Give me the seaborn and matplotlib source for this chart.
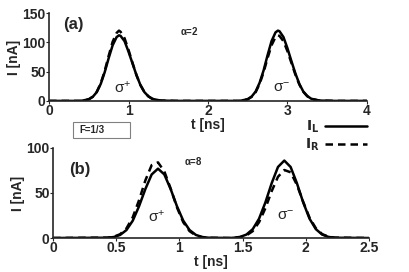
import matplotlib
matplotlib.use("Agg")
import matplotlib.pyplot as plt
import numpy as np
import pandas as pd
import seaborn as sns
from matplotlib.lines import Line2D
from matplotlib.patches import Rectangle

# panel (a), alpha = 2
t_a = [0.0, 0.40, 0.50, 0.55, 0.60, 0.65, 0.70, 0.75, 0.80, 0.85, 0.88, 0.90, 0.95, 1.00, 1.05,
       1.10, 1.15, 1.20, 1.25, 1.30, 1.40, 1.60, 2.00,
       2.40, 2.50, 2.55, 2.60, 2.65, 2.70, 2.75, 2.80, 2.85, 2.88, 2.90, 2.95, 3.00, 3.05,
       3.10, 3.15, 3.20, 3.25, 3.30, 3.40, 3.60, 4.00]
iL_a = [0.0, 0.0, 2.8, 7, 15, 29, 49, 73, 95, 109, 112, 111, 102, 84, 64,
        44, 27, 15, 7.8, 3.5, 0.6, 0.0, 0.0,
        0.0, 3.0, 7.5, 16, 31, 52, 78, 102, 117, 120, 119, 109, 90, 68,
        47, 29, 16, 8.3, 3.7, 0.6, 0.0, 0.0]
iR_a = [0.0, 0.0, 2.8, 7.2, 15.5, 30, 51, 77, 101, 116, 120, 118, 107, 87, 65,
        44, 27, 15, 7.8, 3.5, 0.6, 0.0, 0.0,
        0.0, 2.8, 7, 15, 29, 49, 73, 95, 109, 112, 111, 102, 85, 65,
        45, 28, 15.5, 8.0, 3.6, 0.6, 0.0, 0.0]

# panel (b), alpha = 8
t_b = [0.0, 0.43, 0.48, 0.53, 0.58, 0.63, 0.68, 0.73, 0.78, 0.83, 0.88, 0.93, 0.98, 1.03,
       1.08, 1.13, 1.18, 1.23, 1.40,
       1.43, 1.48, 1.53, 1.58, 1.63, 1.68, 1.73, 1.78, 1.83, 1.88, 1.93, 1.98, 2.03,
       2.08, 2.13, 2.18, 2.23, 2.50]
iL_b = [0.0, 0.3, 1.1, 3.4, 8.8, 19.2, 35.3, 54.4, 70.6, 77, 70.6, 54.4, 35.3, 19.2,
        8.8, 3.4, 1.1, 0.3, 0.0,
        0.3, 1.2, 3.8, 9.8, 21.4, 39.4, 60.8, 78.9, 86, 78.9, 60.8, 39.4, 21.4,
        9.8, 3.8, 1.2, 0.3, 0.0]
iR_b = [0.0, 0.4, 1.4, 4.2, 10.6, 23, 42, 64, 81, 84, 74, 55, 34, 17.5,
        7.6, 2.8, 0.9, 0.2, 0.0,
        0.2, 0.9, 2.9, 7.6, 17.5, 33, 52, 68, 75.5, 73, 59, 40, 22.5,
        10.8, 4.3, 1.4, 0.4, 0.0]

sns.set_theme(style="ticks")
plt.rcParams["font.family"] = ["Liberation Sans", "DejaVu Sans"]
plt.rcParams["font.weight"] = "normal"
plt.rcParams["axes.labelweight"] = "bold"
plt.rcParams["mathtext.default"] = "regular"

fig = plt.figure(figsize=(4.09, 2.72), dpi=100)
ax_a = fig.add_axes([0.120, 0.629, 0.777, 0.323])
ax_b = fig.add_axes([0.130, 0.125, 0.772, 0.331])

df_a = pd.DataFrame({"t": t_a, "IL": iL_a, "IR": iR_a})
df_b = pd.DataFrame({"t": t_b, "IL": iL_b, "IR": iR_b})

for ax, df in ((ax_a, df_a), (ax_b, df_b)):
    sns.lineplot(data=df, x="t", y="IL", ax=ax, color="black", lw=1.8, sort=False)
    sns.lineplot(data=df, x="t", y="IR", ax=ax, color="black", lw=1.8, ls=(0, (3, 2)), sort=False)
    ax.set_ylabel("I [nA]", fontsize=10, labelpad=1, fontweight="bold")
    ax.set_xlabel("t [ns]", fontsize=10, labelpad=0, fontweight="bold")
    ax.tick_params(labelsize=10, length=2, width=0.8, pad=0.5)
    for side in ("left", "bottom"):
        ax.spines[side].set_linewidth(1.2)
    sns.despine(ax=ax)

ax_a.set_xlim(0, 4)
ax_a.set_ylim(0, 150)
ax_a.set_xticks([0, 1, 2, 3, 4])
ax_a.set_yticks([0, 50, 100, 150])
ax_b.set_xlim(0, 2.5)
ax_b.set_ylim(0, 100)
ax_b.set_xticks([0, 0.5, 1, 1.5, 2, 2.5])
ax_b.set_xticklabels(["0", "0.5", "1", "1.5", "2", "2.5"])
ax_b.set_yticks([0, 50, 100])
for ax in (ax_a, ax_b):
    for lbl in ax.get_xticklabels() + ax.get_yticklabels():
        lbl.set_fontweight("bold")

ax_a.text(0.3, 130, "(a)", fontsize=12, fontweight="bold", ha="center", va="center")
ax_a.text(1.77, 120, r"$\alpha$=2", fontsize=7, fontweight="bold", ha="center", va="center")
ax_a.text(0.92, 22, r"$\sigma^{+}$", fontsize=11, ha="center", va="center")
ax_a.text(2.93, 22, r"$\sigma^{-}$", fontsize=11, ha="center", va="center")

ax_b.text(0.21, 76, "(b)", fontsize=12, fontweight="bold", ha="center", va="center")
ax_b.text(1.11, 85, r"$\alpha$=8", fontsize=7, fontweight="bold", ha="center", va="center")
ax_b.text(0.82, 24, r"$\sigma^{+}$", fontsize=11, ha="center", va="center")
ax_b.text(1.84, 24, r"$\sigma^{-}$", fontsize=11, ha="center", va="center")

fig.patches.append(Rectangle((0.178, 0.493), 0.139, 0.059, transform=fig.transFigure,
                             fill=False, edgecolor="#808080", lw=0.8))
fig.text(0.193, 0.522, "F=1/3", fontsize=7, fontweight="bold", ha="left", va="center")

handles = [Line2D([], [], color="black", lw=1.8),
           Line2D([], [], color="black", lw=1.8, ls=(0, (3, 2)))]
fig.legend(handles, [r"$\mathbf{I_L}$", r"$\mathbf{I_R}$"], loc="upper right",
           bbox_to_anchor=(0.91, 0.585), frameon=False, markerfirst=False,
           handlelength=3.0, fontsize=10, labelspacing=0.15, borderaxespad=0,
           handletextpad=0.4)

fig.savefig("out.png", dpi=100)
